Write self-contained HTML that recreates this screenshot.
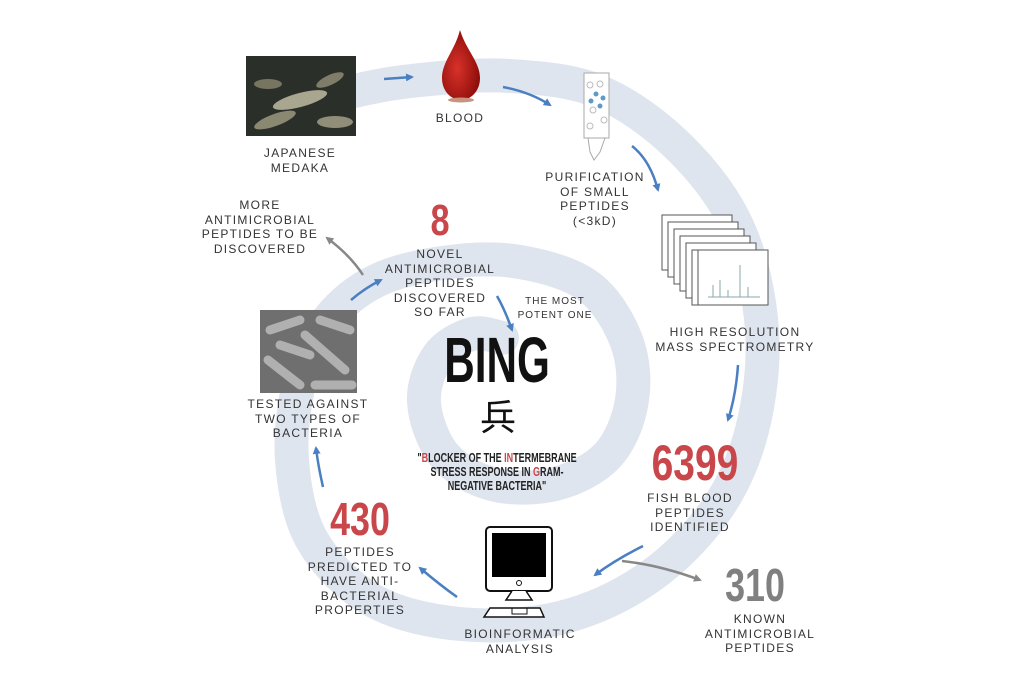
<!DOCTYPE html>
<html><head><meta charset="utf-8"><style>
html,body{margin:0;padding:0;background:#fff;}
#c{position:relative;width:1020px;height:680px;overflow:hidden;font-family:"Liberation Sans",sans-serif;}
.t{position:absolute;text-align:center;font-size:12px;letter-spacing:1.3px;color:#333;line-height:14.5px;}
.n{position:absolute;text-align:center;font-family:"Liberation Sans Narrow","Liberation Sans",sans-serif;color:#c9474a;transform:scaleX(0.78);font-weight:bold;}
</style></head><body><div id="c">
<svg width="1020" height="680" style="position:absolute;left:0;top:0">
<defs>
<marker id="ab" markerWidth="8" markerHeight="8" refX="6" refY="4" orient="auto" markerUnits="userSpaceOnUse"><path d="M0,0 L8,4 L0,8 z" fill="#4a7fc1"/></marker>
<marker id="ag" markerWidth="8" markerHeight="8" refX="6" refY="4" orient="auto" markerUnits="userSpaceOnUse"><path d="M0,0 L8,4 L0,8 z" fill="#888"/></marker>
<radialGradient id="drop" cx="0.4" cy="0.55" r="0.6"><stop offset="0" stop-color="#d8322a"/><stop offset="1" stop-color="#8e0d0a"/></radialGradient>
</defs>
<path id="sp" fill="none" stroke="#dfe5ef" stroke-width="34" stroke-linecap="round"/>
<rect x="246" y="56" width="110" height="80" fill="#2b2f2a"/>
<ellipse cx="300" cy="100" rx="28" ry="7" fill="#a9a690" transform="rotate(-15 300 100)"/>
<ellipse cx="275" cy="120" rx="22" ry="6" fill="#8b8872" transform="rotate(-20 275 120)"/>
<ellipse cx="330" cy="80" rx="15" ry="5" fill="#7f7d6a" transform="rotate(-25 330 80)"/>
<ellipse cx="268" cy="84" rx="14" ry="5" fill="#77755f"/>
<ellipse cx="335" cy="122" rx="18" ry="6" fill="#908e78"/>
<path d="M460,30 C455,50 442,62 442,78 C442,92 452,100 461,100 C470,100 480,92 480,78 C480,62 466,50 460,30z" fill="url(#drop)"/>
<ellipse cx="461" cy="100" rx="13" ry="2.5" fill="#c89480"/>
<rect x="584" y="73" width="25" height="65" fill="#fff" stroke="#aaa"/>
<g fill="#fff" stroke="#bbb"><circle cx="590" cy="85" r="3"/><circle cx="600" cy="84" r="3"/><circle cx="593" cy="110" r="3"/><circle cx="604" cy="120" r="3"/><circle cx="590" cy="126" r="3"/></g>
<g fill="#5d9ac6"><circle cx="596" cy="94" r="2.5"/><circle cx="603" cy="98" r="2.5"/><circle cx="591" cy="101" r="2.5"/><circle cx="600" cy="106" r="2.5"/></g>
<path d="M588,138 L605,138 L600,152 L594,160 L590,152z" fill="#fff" stroke="#aaa"/>
<g fill="#fff" stroke="#555" stroke-width="1">
<rect x="662" y="215" width="70" height="55"/><rect x="668" y="222" width="70" height="55"/><rect x="674" y="229" width="70" height="55"/><rect x="680" y="236" width="70" height="55"/><rect x="686" y="243" width="70" height="55"/><rect x="692" y="250" width="70" height="55"/><rect x="698" y="250" width="70" height="55"/></g>
<g stroke="#8aa" stroke-width="1"><line x1="708" y1="297" x2="760" y2="297"/><line x1="713" y1="297" x2="713" y2="285"/><line x1="720" y1="297" x2="720" y2="280"/><line x1="728" y1="297" x2="728" y2="290"/><line x1="740" y1="297" x2="740" y2="265"/><line x1="748" y1="297" x2="748" y2="287"/></g>
<rect x="260" y="310" width="97" height="83" fill="#6f6f6f"/>
<g stroke="#b0b0b0" stroke-width="9" stroke-linecap="round">
<line x1="270" y1="330" x2="300" y2="320"/><line x1="305" y1="335" x2="345" y2="370"/><line x1="268" y1="360" x2="300" y2="385"/><line x1="320" y1="320" x2="350" y2="330"/><line x1="280" y1="345" x2="310" y2="355"/><line x1="315" y1="385" x2="352" y2="385"/></g>
<rect x="486" y="527" width="66" height="64" rx="4" fill="#fff" stroke="#111" stroke-width="2"/>
<rect x="492" y="533" width="54" height="44" fill="#000"/>
<circle cx="519" cy="583" r="2.5" fill="none" stroke="#111"/>
<path d="M512,591 L506,600 L532,600 L526,591" fill="#fff" stroke="#111" stroke-width="1.5"/>
<path d="M490,608 L540,608 L544,617 L484,617z" fill="#fff" stroke="#111" stroke-width="1.5"/>
<rect x="512" y="608" width="15" height="6" fill="none" stroke="#111"/>
<g fill="none" stroke="#4a7fc1" stroke-width="2.5">
<path d="M384,79 L412,77" marker-end="url(#ab)"/>
<path d="M503,87 Q530,92 550,105" marker-end="url(#ab)"/>
<path d="M632,146 Q650,160 658,190" marker-end="url(#ab)"/>
<path d="M738,365 Q736,395 728,420" marker-end="url(#ab)"/>
<path d="M643,546 Q615,560 595,575" marker-end="url(#ab)"/>
<path d="M457,597 Q440,585 420,568" marker-end="url(#ab)"/>
<path d="M323,487 Q318,465 316,448" marker-end="url(#ab)"/>
<path d="M351,300 Q365,288 381,280" marker-end="url(#ab)"/>
<path d="M497,296 Q505,310 512,330" marker-end="url(#ab)"/>
</g>
<g fill="none" stroke="#888" stroke-width="2.5">
<path d="M622,561 Q660,565 700,580" marker-end="url(#ag)"/>
<path d="M363,275 Q350,255 327,238" marker-end="url(#ag)"/>
</g>
</svg>
<div class="t" style="left:240px;top:146px;width:120px">JAPANESE<br>MEDAKA</div>
<div class="t" style="left:420px;top:111px;width:80px">BLOOD</div>
<div class="t" style="left:535px;top:170px;width:120px">PURIFICATION<br>OF SMALL<br>PEPTIDES<br>(&lt;3kD)</div>
<div class="t" style="left:655px;top:325px;width:160px">HIGH RESOLUTION<br>MASS SPECTROMETRY</div>
<div class="n" style="left:620px;top:436px;width:150px;font-size:50px;line-height:54px">6399</div>
<div class="t" style="left:630px;top:491px;width:120px">FISH BLOOD<br>PEPTIDES<br>IDENTIFIED</div>
<div class="n" style="left:695px;top:560px;width:120px;font-size:46px;line-height:50px;color:#808080">310</div>
<div class="t" style="left:690px;top:612px;width:140px">KNOWN<br>ANTIMICROBIAL<br>PEPTIDES</div>
<div class="t" style="left:450px;top:627px;width:140px">BIOINFORMATIC<br>ANALYSIS</div>
<div class="n" style="left:300px;top:494px;width:120px;font-size:46px;line-height:50px">430</div>
<div class="t" style="left:290px;top:545px;width:140px">PEPTIDES<br>PREDICTED TO<br>HAVE ANTI-<br>BACTERIAL<br>PROPERTIES</div>
<div class="t" style="left:243px;top:397px;width:130px">TESTED AGAINST<br>TWO TYPES OF<br>BACTERIA</div>
<div class="t" style="left:185px;top:198px;width:150px">MORE<br>ANTIMICROBIAL<br>PEPTIDES TO BE<br>DISCOVERED</div>
<div class="n" style="left:410px;top:198px;width:60px;font-size:44px;line-height:46px">8</div>
<div class="t" style="left:380px;top:247px;width:120px">NOVEL<br>ANTIMICROBIAL<br>PEPTIDES<br>DISCOVERED<br>SO FAR</div>
<div class="t" style="left:510px;top:295px;width:90px;font-size:10px;line-height:14px;letter-spacing:1px">THE MOST<br>POTENT ONE</div>
<div class="n" style="left:412px;top:326px;width:170px;font-size:64px;line-height:68px;color:#111;transform:scaleX(0.66)">BING</div>
<div style="position:absolute;left:468px;top:395px;width:60px;text-align:center;font-size:36px;line-height:40px;font-family:'Noto Sans CJK SC',sans-serif;color:#111">兵</div>
<div class="n" style="left:362px;top:451px;width:270px;font-size:12.5px;line-height:14px;color:#222;transform:scaleX(0.72)">"<span style="color:#c9474a">B</span>LOCKER OF THE <span style="color:#c9474a">IN</span>TERMEBRANE<br>STRESS RESPONSE IN <span style="color:#c9474a">G</span>RAM-<br>NEGATIVE BACTERIA"</div>
</div>
<script>
var P=[[300,110],[350,92],[420,80],[510,76],[600,92],[680,148],[738,228],[762,330],[752,430],[716,510],[648,578],[560,618],[460,624],[372,600],[312,540],[292,460],[300,380],[328,320],[378,280],[450,262],[520,262],[588,286],[626,340],[632,400],[608,455],[555,484],[492,484],[444,455],[424,402],[438,356],[472,334],[502,338]];
var d="M"+P[0];for(var i=0;i<P.length-1;i++){var p0=P[Math.max(i-1,0)],p1=P[i],p2=P[i+1],p3=P[Math.min(i+2,P.length-1)];
var c1=[p1[0]+(p2[0]-p0[0])/6,p1[1]+(p2[1]-p0[1])/6],c2=[p2[0]-(p3[0]-p1[0])/6,p2[1]-(p3[1]-p1[1])/6];d+=" C"+c1+" "+c2+" "+p2;}
document.getElementById("sp").setAttribute("d",d);
</script>
</body></html>
